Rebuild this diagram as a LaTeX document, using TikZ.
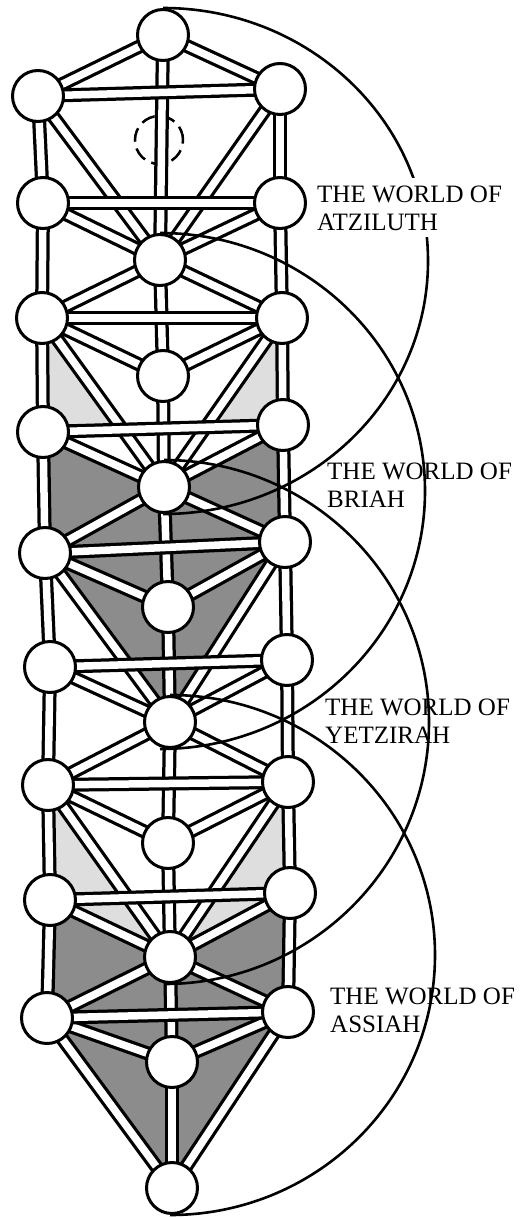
\documentclass[tikz,border=0pt]{standalone}
\usepackage{fontspec}
\newfontfamily\worldfont{Liberation Serif}
\usetikzlibrary{calc}
\pgfdeclarelayer{shading}
\pgfdeclarelayer{bars}
\pgfsetlayers{shading,bars,main}
\tikzset{
  sefira/.style={circle, draw, line width=3pt, fill=white, minimum size=51pt, inner sep=0pt},
  daath/.style={circle, draw, dash pattern=on 14pt off 7pt, line width=2.5pt, minimum size=48pt, inner sep=0pt},
  pathouter/.style={line width=14pt},
  pathinner/.style={line width=7.5pt, white},
  crossbar/.style={double=white, double distance=7.5pt, line width=3.25pt},
  worldarc/.style={line width=2.6pt},
  worldlabel/.style={anchor=base west, align=left, inner sep=0pt, font=\worldfont\fontsize{25}{28}\selectfont},
  heavyshade/.style={fill=black!45},
  lightshade/.style={fill=black!13},
}
% the 22 paths of each tree, four trees overlapping
\newcommand{\ladderedges}{c0/c4,c4/c6,c6/c8,c8/c10,c10/c12,c12/c14,c14/c16,c16/c18,c18/c20,
  l1/l3,l3/l5,l5/l7,l7/l9,l9/l11,l11/l13,l13/l15,l15/l17,
  r1/r3,r3/r5,r5/r7,r7/r9,r9/r11,r11/r13,r13/r15,r15/r17,
  c0/l1,c0/r1,c4/l5,c4/r5,c8/l9,c8/r9,c12/l13,c12/r13,c16/l17,c16/r17,
  l3/c4,r3/c4,l7/c8,r7/c8,l11/c12,r11/c12,l15/c16,r15/c16,
  l5/c6,r5/c6,l9/c10,r9/c10,l13/c14,r13/c14,l17/c18,r17/c18,
  l1/c4,r1/c4,l5/c8,r5/c8,l9/c12,r9/c12,l13/c16,r13/c16,l17/c20,r17/c20}

\begin{document}
\begin{tikzpicture}[x=1pt, y=1pt]
  \useasboundingbox (0,0) rectangle (521,-1218);
  % sephiroth
  \foreach \n/\x/\y in {c0/163/35, c4/160/260, c6/163/376, c8/164/487, c10/168/607,
      c12/170/722, c14/168/843, c16/170/957, c18/172/1062, c20/172/1188,
      l1/38/96, l3/43/203, l5/42/318, l7/43/432, l9/45/553,
      l11/50/667, l13/48/785, l15/50/900, l17/47/1018,
      r1/280/89, r3/280/203, r5/282/318, r7/283/425, r9/285/542,
      r11/287/660, r13/288/782, r15/290/893, r17/288/1012}
    \node[sefira] (\n) at (\x,-\y) {};

  \begin{pgfonlayer}{shading}
    \node[daath] (d2) at (159,-140) {};
    % Briah
    \fill[lightshade] (l5.center) -- (l7.center) -- (intersection of l5--c8 and l7--r7) -- cycle;
    \fill[lightshade] (r5.center) -- (r7.center) -- (intersection of r5--c8 and l7--r7) -- cycle;
    \fill[heavyshade] (l7.center) -- (c8.center) -- (r7.center) -- (r9.center) -- (c12.center) -- (l9.center) -- cycle;
    % Assiah
    \fill[lightshade] (l13.center) -- (l15.center) -- (c16.center) -- cycle;
    \fill[lightshade] (r13.center) -- (r15.center) -- (c16.center) -- cycle;
    \fill[heavyshade] (l15.center) -- (c16.center) -- (r15.center) -- (r17.center) -- (c20.center) -- (l17.center) -- cycle;
  \end{pgfonlayer}

  \begin{pgfonlayer}{bars}
    \foreach \a/\b in \ladderedges
      \draw[pathouter] (\a.center) -- (\b.center);
    \foreach \a/\b in \ladderedges
      \draw[pathinner] (\a.center) -- (\b.center);
    \foreach \k in {1,3,...,17}
      \draw[crossbar] (l\k.center) -- (r\k.center);
    % the four worlds
    \draw[worldarc] (c0.north) arc[start angle=90, end angle=-90, x radius=265, y radius=253];
    \draw[worldarc] (c4.north) arc[start angle=90, end angle=-90, x radius=265, y radius=258];
    \draw[worldarc] (c8.north) arc[start angle=90, end angle=-90, x radius=265, y radius=262];
    \draw[worldarc] (c12.north) arc[start angle=90, end angle=-90, x radius=265, y radius=260];
  \end{pgfonlayer}

  \node[worldlabel, fill=white, inner sep=7pt] (atziluth) at (310,-230) {THE WORLD OF\\ATZILUTH};
  \node[worldlabel] (briah) at (327,-507) {THE WORLD OF\\BRIAH};
  \node[worldlabel] (yetzirah) at (325,-743) {THE WORLD OF\\YETZIRAH};
  \node[worldlabel] (assiah) at (330,-1032) {THE WORLD OF\\ASSIAH};
\end{tikzpicture}
\end{document}
